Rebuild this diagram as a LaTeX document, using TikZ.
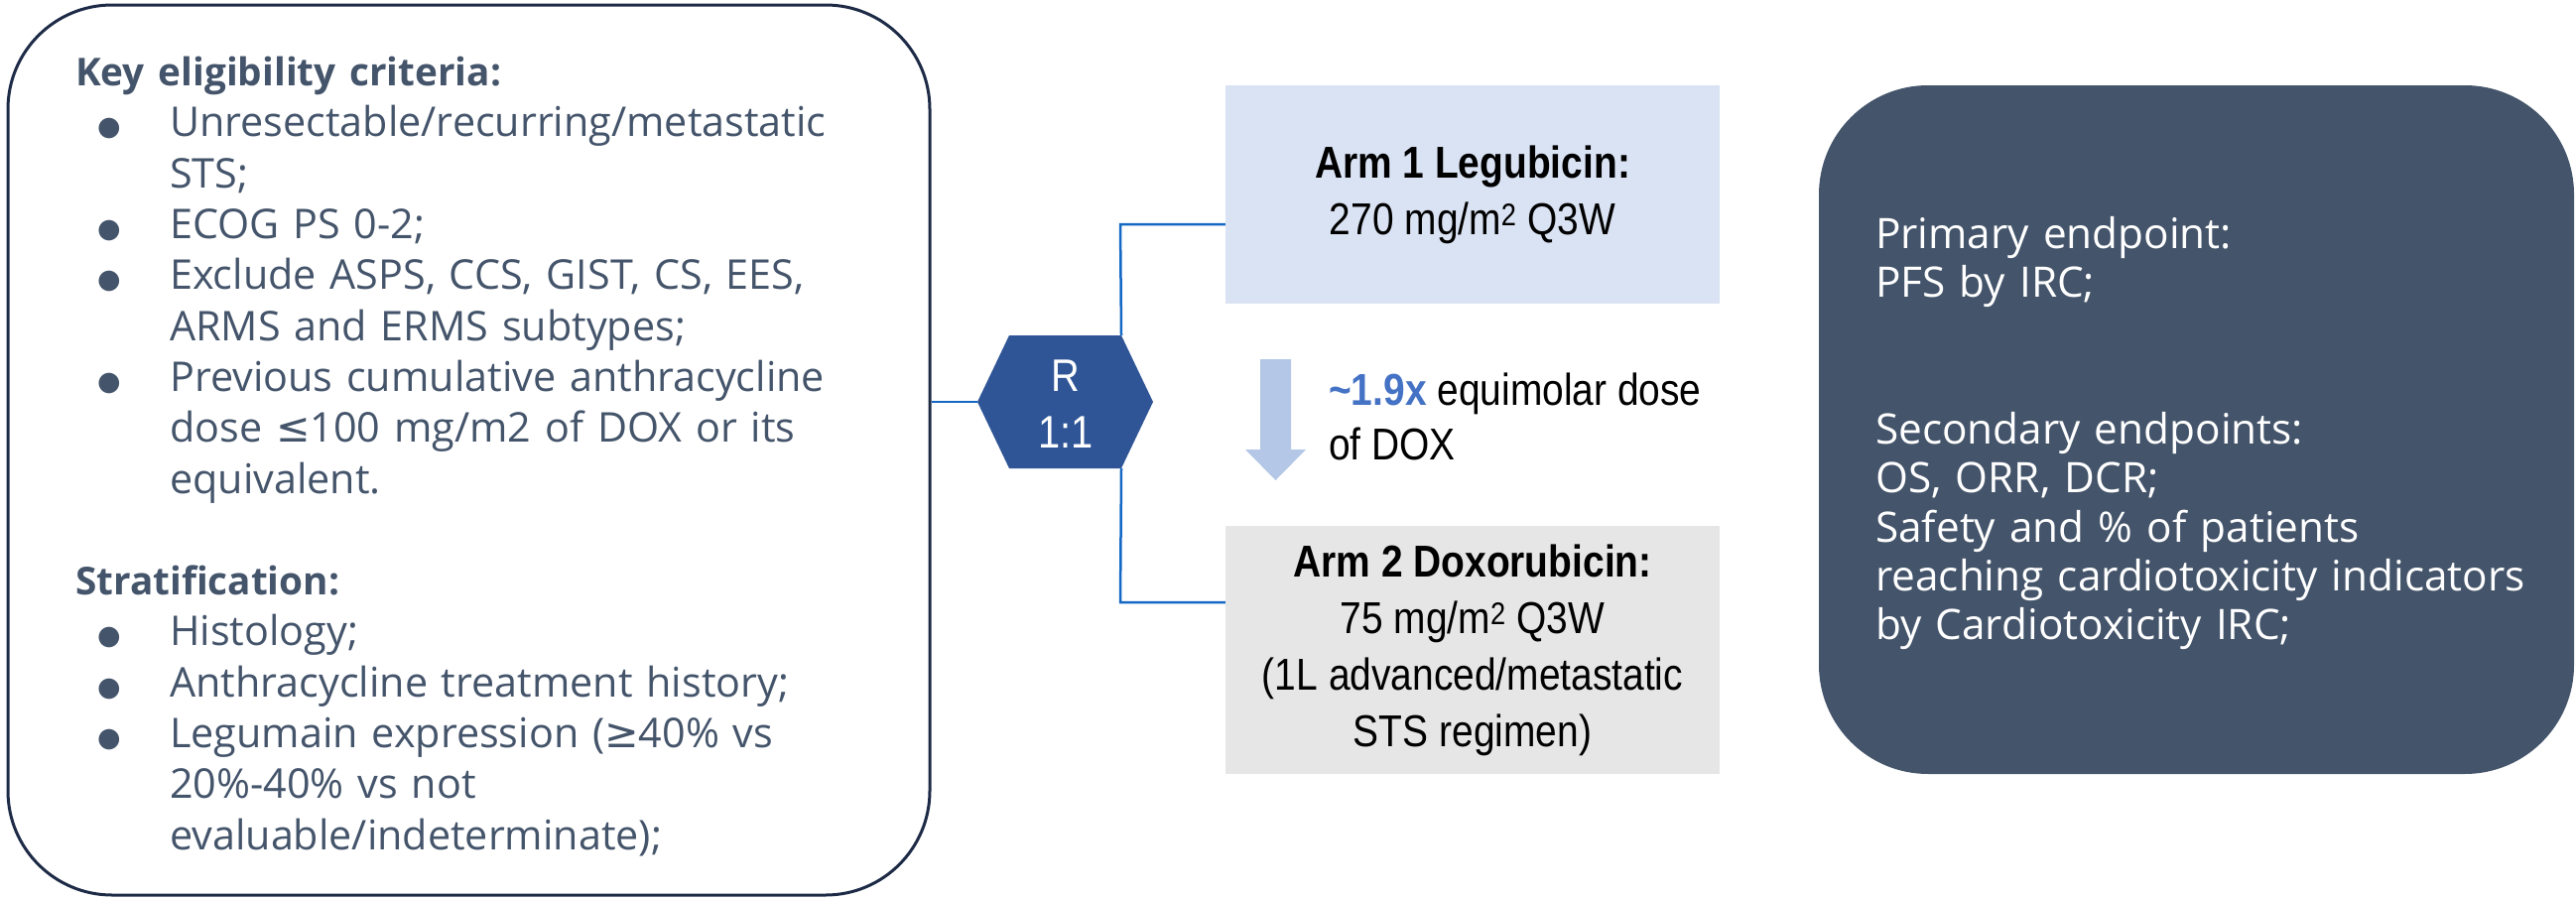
\documentclass[tikz,border=0pt]{standalone}
\usepackage{fontspec}
\setmainfont{Open Sans}
\newfontfamily\bulletfont{DejaVu Sans}
\newfontfamily\narrowfont[FakeStretch=0.865]{Liberation Sans}
\usetikzlibrary{calc}
\definecolor{txtgray}{HTML}{44546A}
\definecolor{boxnavy}{HTML}{1E2B47}
\definecolor{hexfill}{HTML}{2F5597}
\definecolor{linecol}{HTML}{1468C4}
\definecolor{armone}{HTML}{DAE3F3}
\definecolor{armtwo}{HTML}{E7E6E6}
\definecolor{arrowfill}{HTML}{B4C7E7}
\definecolor{bluetext}{HTML}{4472C4}
\definecolor{endfill}{HTML}{44546A}
\newcommand\bitem[1]{\par\hangindent=95pt\hangafter=1\noindent\makebox[95pt][l]{\hspace{22pt}\raisebox{1pt}{\bulletfont\fontsize{27}{27}\selectfont ●}}#1\par}
\newcommand\symb[1]{{\bulletfont #1}}
\newcommand\headline[1]{\noindent{\fontsize{38.7}{51.3}\selectfont\bfseries #1}}
\tikzset{
  connector/.style={draw=linecol, line width=2.5pt},
  armbox/.style={fill=#1, minimum width=498pt, inner sep=0pt, align=center,
    font=\narrowfont\fontsize{45}{57}\selectfont},
  bodytext/.style={inner sep=0pt, align=left},
}
\begin{document}
\begin{tikzpicture}[x=1pt,y=-1pt]
\useasboundingbox (0,0) rectangle (2596,905);
% left box
\node[draw=boxnavy, line width=3pt, rounded corners=105pt, minimum width=929pt, minimum height=897pt, inner sep=0pt] (elig) at (472.5,453.5) {};
\node[bodytext, anchor=north west, text width=840pt, text=txtgray, font=\fontsize{41.3}{51.3}\selectfont] (crit) at (76,57) {%
\headline{Key eligibility criteria:}
\bitem{Unresectable/recurring/metastatic\newline STS;}
\bitem{ECOG PS 0-2;}
\bitem{Exclude ASPS, CCS, GIST, CS, EES,\newline ARMS and ERMS subtypes;}
\bitem{Previous cumulative anthracycline\newline dose \symb{≤}100 mg/m2 of DOX or its\newline equivalent.}
\mbox{}\par
\headline{Stratification:}
\bitem{Histology;}
\bitem{Anthracycline treatment history;}
\bitem{Legumain expression (\symb{≥}40\% vs\newline 20\%-40\% vs not\newline evaluable/indeterminate);}
};
% hexagon
\coordinate (hL) at (985,405);
\coordinate (hTL) at (1017,338);
\coordinate (hTR) at (1130,338);
\coordinate (hR) at (1162,405);
\coordinate (hBR) at (1130,472);
\coordinate (hBL) at (1017,472);
\fill[hexfill] (hL) -- (hTL) -- (hTR) -- (hR) -- (hBR) -- (hBL) -- cycle;
\node[inner sep=0pt, align=center, text=white, font=\narrowfont\fontsize{46}{57}\selectfont] (rand) at (1074,407) {R\\1:1};
% arms
\node[armbox=armone, minimum height=220pt] (arm1) at (1484,196) {\textbf{Arm 1 Legubicin:}\\270 mg/m\textsuperscript{2} Q3W};
\node[armbox=armtwo, minimum height=250pt] (arm2) at (1484,655) {\textbf{Arm 2 Doxorubicin:}\\75 mg/m\textsuperscript{2} Q3W\\(1L advanced/metastatic\\STS regimen)};
% connectors
\draw[connector] (hL -| elig.east) -- (hL);
\coordinate (j1) at (1129,226);
\coordinate (j2) at (1129,607);
\draw[connector] (hTR) -- (j1) -- (j1 -| arm1.west);
\draw[connector] (hBR) -- (j2) -- (j2 -| arm2.west);
% dose arrow
\fill[arrowfill] (1270,362) -- (1301,362) -- (1301,453) -- (1316,453) -- (1285.5,484) -- (1255,453) -- (1270,453) -- cycle;
\node[inner sep=0pt, anchor=west, align=left, font=\narrowfont\fontsize{45}{55}\selectfont] (dose) at (1339,420) {\textbf{\color{bluetext}\textasciitilde1.9x} equimolar dose\\of DOX};
% endpoints
\fill[endfill, rounded corners=110pt] (1833,86) rectangle (2594,780);
\node[bodytext, anchor=north west, text width=720pt, text=white, font=\fontsize{42.3}{49.3}\selectfont] (ends) at (1890,218) {%
Primary endpoint:\\PFS by IRC;\\[98.6pt]
Secondary endpoints:\\OS, ORR, DCR;\\Safety and \% of patients\\reaching cardiotoxicity indicators\\by Cardiotoxicity IRC;};
\end{tikzpicture}
\end{document}
